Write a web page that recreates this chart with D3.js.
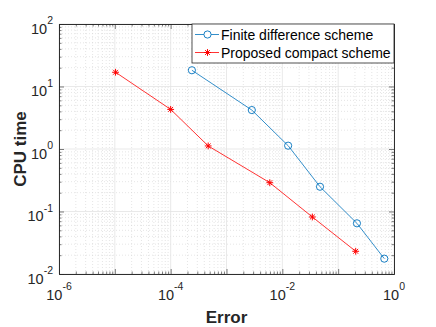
<!DOCTYPE html>
<html>
<head>
<meta charset="utf-8">
<script src="https://cdn.jsdelivr.net/npm/d3@7"></script>
<style>
  body { margin: 0; background: #fff; }
  svg { font-family: "Liberation Sans", Arial, sans-serif; }
</style>
</head>
<body>
<div id="chart"></div>
<script>
// data
const fdError = [2.4e-4, 2.84e-3, 0.0127, 0.0473, 0.217, 0.67];
const fdTime  = [18.2, 4.2, 1.13, 0.249, 0.0647, 0.0176];
const pcError = [1.03e-5, 1e-4, 4.7e-4, 5.96e-3, 0.0345, 0.206];
const pcTime  = [16.9, 4.3, 1.12, 0.289, 0.0817, 0.0231];
const xTickExp = [-6, -4, -2, 0];
const yTickExp = [-2, -1, 0, 1, 2];
const seriesNames = ["Finite difference scheme", "Proposed compact scheme"];

const W = 436, H = 327;
const margin = {top: 24, right: 42, bottom: 53, left: 59};
const width = W - margin.left - margin.right,
      height = H - margin.top - margin.bottom;

const svg = d3.select("#chart").append("svg")
    .attr("width", W).attr("height", H);
const g = svg.append("g")
    .attr("transform", `translate(${margin.left},${margin.top})`);

const x = d3.scaleLog().domain([1e-6, 1]).range([0, width]);
const y = d3.scaleLog().domain([1e-2, 1e2]).range([height, 0]);

// minor + major tick values
function minorVals(lo, hi) {
  const v = [];
  for (let e = lo; e < hi; e++) for (let k = 2; k <= 9; k++) v.push(k * Math.pow(10, e));
  return v;
}
const xMinor = minorVals(-6, 0), yMinor = minorVals(-2, 2);
const xMajor = d3.range(-6, 1).map(e => Math.pow(10, e));
const yMajor = d3.range(-2, 3).map(e => Math.pow(10, e));

// grid
const grid = g.append("g");
grid.selectAll(".xm").data(xMinor).join("line")
  .attr("x1", d => x(d)).attr("x2", d => x(d)).attr("y1", 0).attr("y2", height)
  .attr("stroke", "#d4d4d4").attr("stroke-width", 0.6).attr("stroke-dasharray", "1,2");
grid.selectAll(".ym").data(yMinor).join("line")
  .attr("y1", d => y(d)).attr("y2", d => y(d)).attr("x1", 0).attr("x2", width)
  .attr("stroke", "#d4d4d4").attr("stroke-width", 0.6).attr("stroke-dasharray", "1,2");
grid.selectAll(".xM").data(xMajor).join("line")
  .attr("x1", d => x(d)).attr("x2", d => x(d)).attr("y1", 0).attr("y2", height)
  .attr("stroke", "#e3e3e3").attr("stroke-width", 0.8);
grid.selectAll(".yM").data(yMajor).join("line")
  .attr("y1", d => y(d)).attr("y2", d => y(d)).attr("x1", 0).attr("x2", width)
  .attr("stroke", "#e3e3e3").attr("stroke-width", 0.8);

// axes with inward ticks on all four sides
function styleAxis(sel) {
  sel.selectAll("text").remove();
  sel.selectAll("path").attr("stroke", "#262626").attr("stroke-width", 0.8);
  sel.selectAll("line").attr("stroke", "#262626").attr("stroke-width", 0.6);
}
const axes = [
  [d3.axisBottom, `translate(0,${height})`, x, -5, xMajor],
  [d3.axisTop, `translate(0,0)`, x, -5, xMajor],
  [d3.axisLeft, `translate(0,0)`, y, -5, yMajor],
  [d3.axisRight, `translate(${width},0)`, y, -5, yMajor],
  [d3.axisBottom, `translate(0,${height})`, x, -2.5, xMinor],
  [d3.axisTop, `translate(0,0)`, x, -2.5, xMinor],
  [d3.axisLeft, `translate(0,0)`, y, -2.5, yMinor],
  [d3.axisRight, `translate(${width},0)`, y, -2.5, yMinor]
];
axes.forEach(([fn, tr, sc, len, vals]) => {
  g.append("g").attr("transform", tr)
    .call(fn(sc).tickValues(vals).tickSizeInner(len).tickSizeOuter(0).tickFormat(""))
    .call(styleAxis);
});

// tick labels with superscript exponents
xTickExp.forEach(e => {
  const t = g.append("text").attr("x", x(Math.pow(10, e))).attr("y", height + 25.5)
    .attr("text-anchor", "middle").attr("font-size", 14.5).attr("fill", "#262626");
  t.append("tspan").text("10");
  t.append("tspan").attr("dy", -9.5).attr("font-size", 10.5).text(e);
});
yTickExp.forEach(e => {
  const t = g.append("text").attr("x", -6).attr("y", y(Math.pow(10, e)) + 9.5)
    .attr("text-anchor", "end").attr("font-size", 14.5).attr("fill", "#262626");
  t.append("tspan").text("10");
  t.append("tspan").attr("dy", -9.5).attr("font-size", 10.5).text(e);
});

// axis labels
g.append("text").attr("x", width / 2).attr("y", height + 49)
  .attr("text-anchor", "middle").attr("font-size", 17).attr("font-weight", "bold")
  .attr("fill", "#262626").text("Error");
g.append("text").attr("transform", `translate(-33,${height / 2}) rotate(-90)`)
  .attr("text-anchor", "middle").attr("font-size", 17).attr("font-weight", "bold")
  .attr("fill", "#262626").text("CPU time");

const blue = "#0072BD", red = "#FF0000";
const line = d3.line().x(d => x(d[0])).y(d => y(d[1]));
const fd = fdError.map((e, i) => [e, fdTime[i]]);
const pc = pcError.map((e, i) => [e, pcTime[i]]);

function star(sel, cx, cy, r) {
  [0, 45, 90, 135].forEach(a => {
    const rad = a * Math.PI / 180;
    sel.append("line")
      .attr("x1", cx - r * Math.cos(rad)).attr("y1", cy - r * Math.sin(rad))
      .attr("x2", cx + r * Math.cos(rad)).attr("y2", cy + r * Math.sin(rad))
      .attr("stroke", red).attr("stroke-width", 1);
  });
}

g.append("path").datum(fd).attr("d", line).attr("fill", "none")
  .attr("stroke", blue).attr("stroke-width", 0.8);
g.selectAll(".fdp").data(fd).join("circle")
  .attr("cx", d => x(d[0])).attr("cy", d => y(d[1])).attr("r", 3.6)
  .attr("fill", "none").attr("stroke", blue).attr("stroke-width", 0.9);

g.append("path").datum(pc).attr("d", line).attr("fill", "none")
  .attr("stroke", red).attr("stroke-width", 0.8);
const starG = g.append("g");
pc.forEach(d => star(starG, x(d[0]), y(d[1]), 3.4));

// legend
const lx = 133, lw = width - 133, lh = 39;
const leg = g.append("g");
leg.append("rect").attr("x", lx).attr("y", 0).attr("width", lw).attr("height", lh)
  .attr("fill", "#fff").attr("stroke", "#262626").attr("stroke-width", 0.8);
[[blue, "o"], [red, "*"]].forEach(([c, m], i) => {
  const ly = 10.5 + i * 18;
  leg.append("line").attr("x1", lx + 3).attr("x2", lx + 27).attr("y1", ly).attr("y2", ly)
    .attr("stroke", c).attr("stroke-width", 0.8);
  if (m === "o") {
    leg.append("circle").attr("cx", lx + 15.5).attr("cy", ly).attr("r", 3.6)
      .attr("fill", "#fff").attr("stroke", c).attr("stroke-width", 0.9);
  } else {
    star(leg, lx + 15.5, ly, 3.4);
  }
  leg.append("text").attr("x", lx + 29).attr("y", ly + 5).attr("font-size", 14)
    .attr("fill", "#000").text(seriesNames[i]);
});
</script>
</body>
</html>
